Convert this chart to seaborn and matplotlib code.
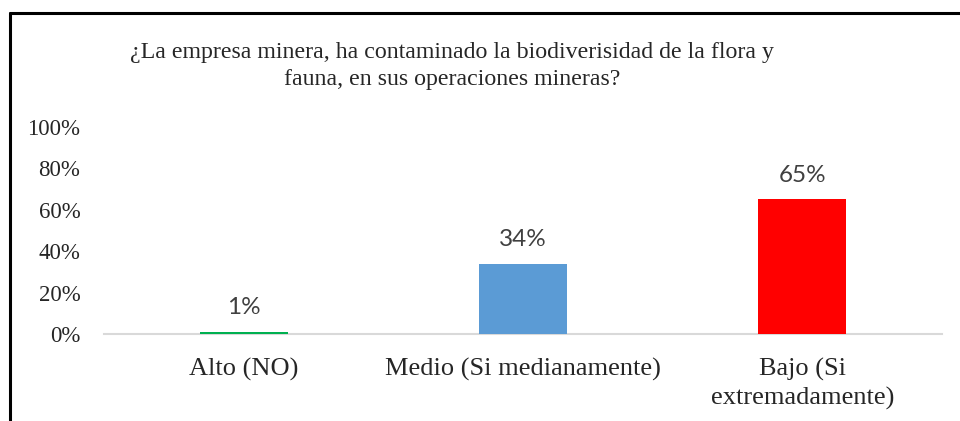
import seaborn as sns
import matplotlib.pyplot as plt
from matplotlib.lines import Line2D
import pandas as pd

# data
categories = ['Alto (NO)', 'Medio (Si medianamente)', 'Bajo (Si\nextremadamente)']
values = [0.01, 0.34, 0.65]
value_labels = ['1%', '34%', '65%']
colors = ['#00B050', '#5B9BD5', '#FF0000']
title = '¿La empresa minera, ha contaminado la biodiverisidad de la flora y\nfauna, en sus operaciones mineras?'

df = pd.DataFrame({'cat': categories, 'val': values})

sns.set_style('white')
plt.rcParams['font.family'] = ['Liberation Serif', 'DejaVu Serif']

fig = plt.figure(figsize=(9.6, 4.21), dpi=100)
ax = fig.add_axes([104/960, 1-334/421, (942-104)/960, (334-127)/421])

sns.barplot(data=df, x='cat', y='val', hue='cat', palette=colors,
            width=0.315, legend=False, ax=ax, saturation=1, zorder=3,
            linewidth=0)

ax.set_xlim(-0.5, 2.5)
ax.set_ylim(0, 1)
ax.set_yticks([0, 0.2, 0.4, 0.6, 0.8, 1.0])
ax.set_yticklabels(['0%', '20%', '40%', '60%', '80%', '100%'], fontsize=16.5)
ax.tick_params(axis='y', length=0, pad=17)
ax.set_xticks([0, 1, 2])
ax.set_xticklabels(categories, fontsize=19, linespacing=1.35)
ax.set_xticks([-0.5, 0.5, 1.5, 2.5], minor=True)
ax.tick_params(axis='x', which='major', length=0, pad=17)
ax.tick_params(axis='x', which='minor', length=7, width=1.5, color='#D9D9D9')
ax.set_xlabel('')
ax.set_ylabel('')
for s in ['top', 'right', 'left']:
    ax.spines[s].set_visible(False)
ax.spines['bottom'].set_color('#D9D9D9')
ax.spines['bottom'].set_linewidth(1.5)
ax.spines['bottom'].set_zorder(1)

for i, (v, lab) in enumerate(zip(values, value_labels)):
    ax.annotate(lab, (i, v), xytext=(0, 10), textcoords='offset points',
                ha='center', va='bottom', fontsize=17.5, color='#404040',
                family=['Lato', 'DejaVu Sans'])

fig.text(452/960, 1-66/421, title, ha='center', va='center', fontsize=17.2,
         linespacing=1.35)

# outer frame (only top and left edges visible)
fig.add_artist(Line2D([10/960, 1.0], [1-12.5/421, 1-12.5/421], color='black', lw=2.2))
fig.add_artist(Line2D([10/960, 10/960], [0, 1-12.5/421], color='black', lw=2.2))

fig.savefig('out.png', dpi=100)
